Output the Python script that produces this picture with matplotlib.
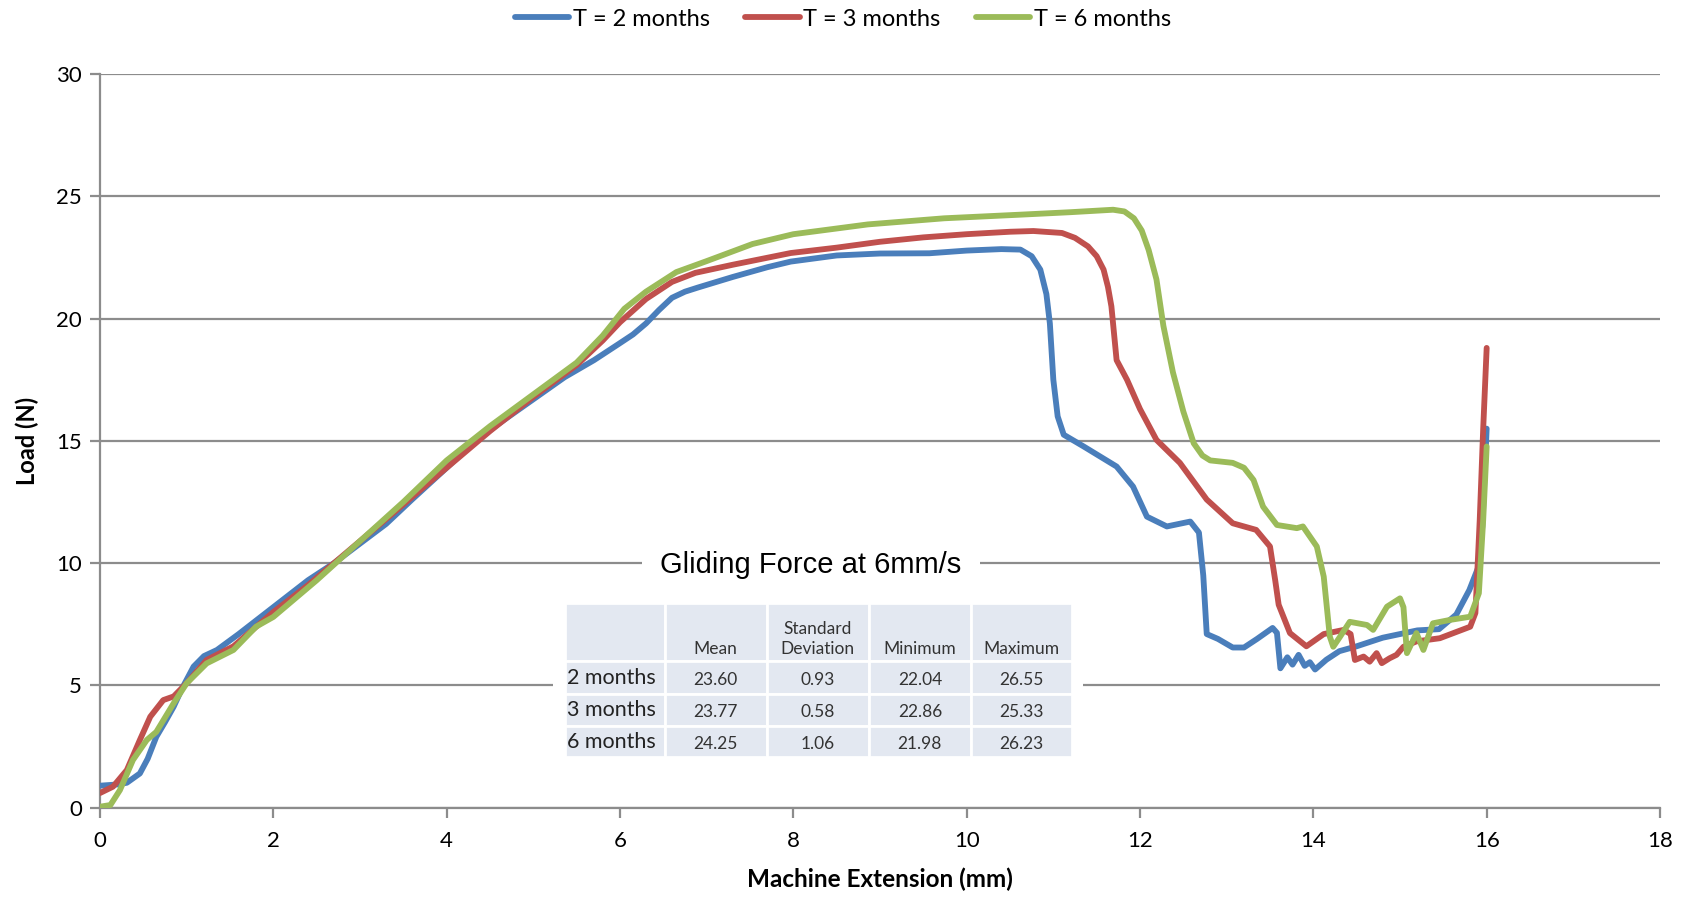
import matplotlib.pyplot as plt
from matplotlib.patches import Rectangle

# Load vs extension curves
ext_2m = [0.0, 0.2, 0.31, 0.46, 0.55, 0.65, 0.75, 0.85, 0.95, 1.08, 1.2, 1.35, 1.6, 2.0, 2.4,
          2.7, 3.0, 3.3, 3.6, 4.0, 4.3, 4.6, 5.0, 5.36, 5.7, 5.98, 6.15, 6.3, 6.45, 6.6,
          6.75, 6.9, 7.3, 7.7, 7.97, 8.5, 9.0, 9.57, 10.0, 10.4, 10.62, 10.75, 10.85, 10.92,
          10.96, 11.0, 11.05, 11.12, 11.35, 11.73, 11.92, 12.08, 12.31, 12.58, 12.68,
          12.73, 12.77, 12.9, 13.07, 13.2, 13.35, 13.53, 13.58, 13.62, 13.7, 13.76, 13.83,
          13.9, 13.96, 14.02, 14.15, 14.3, 14.5, 14.8, 15.0, 15.2, 15.45, 15.65, 15.8,
          15.9, 15.95, 16.0]
load_2m = [0.9, 0.95, 1.02, 1.4, 2.0, 2.9, 3.5, 4.13, 4.9, 5.77, 6.2, 6.45, 7.1, 8.2, 9.3,
           10.0, 10.8, 11.6, 12.6, 13.9, 14.9, 15.7, 16.7, 17.6, 18.3, 18.95, 19.35, 19.8,
           20.35, 20.85, 21.1, 21.27, 21.7, 22.1, 22.33, 22.58, 22.66, 22.67, 22.78, 22.84,
           22.82, 22.55, 22.0, 21.0, 19.8, 17.5, 16.0, 15.25, 14.77, 13.95, 13.13, 11.9,
           11.5, 11.7, 11.25, 9.5, 7.1, 6.9, 6.55, 6.55, 6.9, 7.35, 7.15, 5.7, 6.15, 5.85,
           6.25, 5.8, 5.95, 5.65, 6.05, 6.4, 6.6, 6.95, 7.1, 7.25, 7.3, 7.9, 8.9, 9.8, 11.5,
           15.5]

ext_3m = [0.0, 0.15, 0.31, 0.46, 0.58, 0.73, 0.85, 1.0, 1.23, 1.54, 2.0, 2.4, 2.7, 3.0,
          3.5, 4.0, 4.5, 5.0, 5.5, 5.8, 6.0, 6.3, 6.6, 6.87, 7.3, 7.97, 8.5, 9.0, 9.5,
          10.0, 10.5, 10.77, 11.1, 11.25, 11.4, 11.5, 11.58, 11.63, 11.67, 11.73, 11.85,
          12.0, 12.19, 12.46, 12.77, 13.07, 13.34, 13.5, 13.56, 13.6, 13.73, 13.92, 14.12,
          14.35, 14.43, 14.48, 14.58, 14.65, 14.73, 14.79, 14.88, 14.96, 15.04, 15.19,
          15.46, 15.81, 15.87, 15.92, 15.96, 16.0]
load_3m = [0.6, 0.86, 1.54, 2.77, 3.72, 4.4, 4.55, 5.09, 6.04, 6.6, 8.0, 9.1, 10.0, 10.9,
           12.4, 13.9, 15.4, 16.8, 18.1, 19.1, 19.85, 20.8, 21.5, 21.87, 22.2, 22.68,
           22.9, 23.14, 23.32, 23.45, 23.55, 23.58, 23.5, 23.3, 22.95, 22.55, 22.0, 21.3,
           20.5, 18.3, 17.5, 16.3, 15.04, 14.1, 12.6, 11.63, 11.36, 10.68, 9.3, 8.3, 7.14,
           6.6, 7.1, 7.27, 7.1, 6.04, 6.18, 5.97, 6.32, 5.91, 6.11, 6.25, 6.58, 6.8, 6.93,
           7.4, 7.96, 11.77, 15.5, 18.8]

ext_6m = [0.0, 0.12, 0.23, 0.38, 0.54, 0.65, 0.85, 1.0, 1.23, 1.54, 1.8, 2.0, 2.5, 3.0,
          3.5, 4.0, 4.5, 5.0, 5.5, 5.8, 6.05, 6.3, 6.65, 7.0, 7.53, 8.0, 8.86, 9.74,
          10.63, 11.2, 11.69, 11.82, 11.93, 12.02, 12.1, 12.19, 12.27, 12.38, 12.5, 12.62,
          12.72, 12.81, 13.07, 13.2, 13.31, 13.42, 13.58, 13.81, 13.88, 14.04, 14.12,
          14.19, 14.23, 14.31, 14.42, 14.62, 14.69, 14.85, 15.0, 15.04, 15.08, 15.19,
          15.27, 15.38, 15.58, 15.81, 15.91, 15.96, 16.0]
load_6m = [0.04, 0.11, 0.72, 1.95, 2.77, 3.1, 4.27, 5.09, 5.9, 6.45, 7.4, 7.8, 9.3, 10.9,
           12.5, 14.2, 15.6, 16.9, 18.2, 19.3, 20.4, 21.1, 21.9, 22.35, 23.05, 23.45,
           23.85, 24.1, 24.25, 24.35, 24.45, 24.38, 24.1, 23.6, 22.8, 21.6, 19.7, 17.8,
           16.2, 14.9, 14.4, 14.2, 14.1, 13.9, 13.4, 12.31, 11.56, 11.43, 11.5, 10.68,
           9.45, 7.0, 6.58, 7.0, 7.6, 7.47, 7.27, 8.22, 8.56, 8.2, 6.32, 7.14, 6.45, 7.54,
           7.68, 7.81, 8.77, 11.77, 14.77]

series_labels = ['T = 2 months', 'T = 3 months', 'T = 6 months']
series_colors = ['#4a7ebb', '#c0504d', '#9bbb59']

# inset table
table_title = 'Gliding Force at 6mm/s'
col_heads = ['Mean', 'Standard\nDeviation', 'Minimum', 'Maximum']
row_heads = ['2 months', '3 months', '6 months']
table_vals = [['23.60', '0.93', '22.04', '26.55'],
              ['23.77', '0.58', '22.86', '25.33'],
              ['24.25', '1.06', '21.98', '26.23']]

W, H = 1686, 899
fig = plt.figure(figsize=(W / 100, H / 100), dpi=100)
ax = fig.add_axes([100 / W, 1 - 807.7 / H, 1560 / W, 733.7 / H])

grey = '#8c8c8c'
curves = [(ext_2m, load_2m), (ext_3m, load_3m), (ext_6m, load_6m)]
for (xs, ys), lab, col in zip(curves, series_labels, series_colors):
    ax.plot(xs, ys, color=col, lw=4.2, label=lab,
            solid_joinstyle='round', solid_capstyle='round', zorder=3)

ax.set_xlim(0, 18)
ax.set_ylim(0, 30)
ax.set_xticks(range(0, 19, 2))
ax.set_yticks(range(0, 31, 5))
ax.yaxis.grid(True, color=grey, lw=1.6)
ax.set_axisbelow(True)
for s in ['top', 'right']:
    ax.spines[s].set_visible(False)
for s in ['left', 'bottom']:
    ax.spines[s].set_color(grey)
    ax.spines[s].set_linewidth(1.6)
ax.tick_params(colors=grey, width=1.6, length=7, labelsize=16, labelcolor='black')
for lab in ax.get_xticklabels() + ax.get_yticklabels():
    lab.set_fontfamily('Lato')
ax.tick_params(axis='x', pad=10)
ax.tick_params(axis='y', pad=6)

ax.set_xlabel('Machine Extension (mm)', fontsize=17.5, fontweight='bold', family='Lato', labelpad=12)
ax.set_ylabel('Load (N)', fontsize=17, fontweight='bold', family='Lato', labelpad=12)

fig.legend(loc='center', bbox_to_anchor=(0.5, 1 - 19 / H), ncol=3, frameon=False,
           prop={'family': 'Lato', 'size': 17}, handlelength=2.3, handletextpad=0.15,
           columnspacing=1.5)

# title of the inset, white box hides the grid line
fig.text(811 / W, 1 - 565 / H, table_title, ha='center', va='center', fontsize=21,
         family='Liberation Sans',
         bbox=dict(facecolor='white', edgecolor='none', pad=13))

# inset table drawn in its own axes (pixel coordinates)
tax = fig.add_axes([553 / W, 1 - 760 / H, 530 / W, 160 / H])
tax.set_xlim(553, 1083)
tax.set_ylim(760, 600)
tax.axis('off')
tax.add_patch(Rectangle((553, 600), 530, 160, facecolor='white', edgecolor='none'))
col_x = [565, 664.5, 766.7, 868.8, 971, 1072]
row_y = [603, 661, 694, 726, 757]
cell_bg = '#e3e8f1'
for i in range(len(row_y) - 1):
    for j in range(len(col_x) - 1):
        tax.add_patch(Rectangle((col_x[j], row_y[i]), col_x[j + 1] - col_x[j],
                                row_y[i + 1] - row_y[i], facecolor=cell_bg,
                                edgecolor='white', lw=2))
for j, head in enumerate(col_heads):
    cx = (col_x[j + 1] + col_x[j + 2]) / 2
    tax.text(cx, row_y[1] - 4, head, ha='center', va='bottom', fontsize=12.5,
             family='Lato', color='#333333', linespacing=1.3)
for i, rh in enumerate(row_heads):
    cy = (row_y[i + 1] + row_y[i + 2]) / 2
    tax.text(col_x[0] + 2, cy, rh, ha='left', va='center', fontsize=15.5,
             family='Lato', color='#222222')
    for j, v in enumerate(table_vals[i]):
        cx = (col_x[j + 1] + col_x[j + 2]) / 2
        tax.text(cx, cy + 2, v, ha='center', va='center', fontsize=12.5,
                 family='Lato', color='#333333')

fig.savefig('out.png', dpi=100)
